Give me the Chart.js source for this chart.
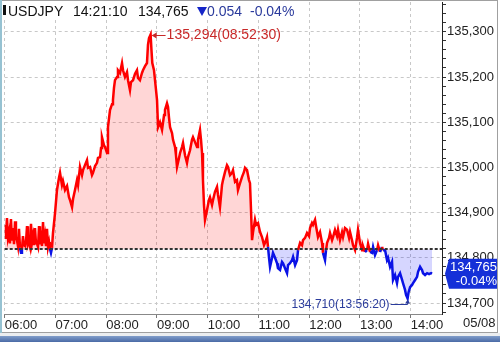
<!DOCTYPE html>
<html><head><meta charset="utf-8">
<script src="https://cdn.jsdelivr.net/npm/chart.js@4/dist/chart.umd.min.js"></script>
<style>html,body{margin:0;padding:0;background:#fff;overflow:hidden}canvas{display:block}</style>
</head><body>
<canvas id="c" width="500" height="342"></canvas>
<script>
const symbol = 'USDJPY';
const quoteTime = '14:21:10';
const lastPriceText = '134,765';
const changeText = '0.054';
const pctText = '-0.04%';
const dateText = '05/08';
const prevClose = 134.819;
const lastPrice = 134.765;
const highLabel = '135,294(08:52:30)';
const lowLabel = '134,710(13:56:20)';

// minutes after 06:00
const xTickMinutes = [0, 60, 120, 180, 240, 300, 360, 420, 480];
const xTickLabels = ['06:00', '07:00', '08:00', '09:00', '10:00', '11:00', '12:00', '13:00', '14:00'];
const yTickValues = [134.7, 134.8, 134.9, 135.0, 135.1, 135.2, 135.3];

const minutes = [
0,1.3,2.7,3.9,5.1,6.2,7.4,8.6,9.8,11.0,12.2,13.3,14.5,15.7,16.9,18.1,19.3,20.4,21.6,22.8,24.0,25.2,26.4,27.5,28.7,29.9,31.1,32.3,33.5,34.6,35.8,37.0,38.2,39.4,40.6,41.7,42.9,44.1,45.3,46.5,47.7,48.8,50.0,51.2,52.4,53.5,54.7,55.9,57.1,
59.5,61.8,64.2,65.4,67.7,68.9,71.3,73.7,76.0,77.2,79.6,80.8,83.1,85.5,86.7,89.0,91.4,92.6,94.9,97.3,98.5,100.9,103.2,104.4,
106.8,109.1,110.3,112.7,113.9,115.0,117.4,118.6,121.0,122.1,124.5,126.9,128.0,129.2,130.4,132.8,133.9,136.3,137.5,138.7,
139.9,142.2,144.6,145.8,148.1,149.3,151.7,154.1,156.4,157.6,159.9,162.3,163.5,165.9,168.2,169.4,170.6,172.5,173.5,174.5,
176.5,177.7,178.9,180.1,181.3,183.6,186.0,188.4,189.5,191.9,193.1,194.3,195.5,197.8,199.0,201.4,202.5,203.7,206.1,207.3,
209.6,210.8,213.2,215.5,216.7,219.1,221.4,222.6,225.0,227.4,228.5,230.9,232.1,233.3,234.4,235.6,236.8,239.2,241.5,242.7,
245.1,246.3,248.6,251.0,252.2,254.5,256.9,258.1,260.5,262.8,264.0,266.4,268.7,269.9,272.3,274.6,275.8,278.2,280.6,282.9,
284.1,286.5,288.8,290.0,291.2,292.4,293.6,295.9,297.1,299.5,301.9,304.2,306.6,307.8,310.1,311.3,312.5,313.7,316.1,317.2,
319.6,322.0,323.1,325.5,327.9,329.1,331.4,333.8,335.0,337.3,339.7,340.9,343.3,345.6,346.8,349.2,351.5,352.7,355.1,357.4,
359.8,361.0,363.3,364.5,366.9,368.1,370.4,372.8,375.2,376.3,378.7,379.9,381.1,383.4,384.6,387.0,388.2,390.5,392.9,394.1,
396.4,398.8,400.0,402.3,404.7,407.1,408.3,410.6,411.8,414.2,416.5,417.7,420.1,422.5,423.6,426.0,428.4,429.6,431.9,434.3,
435.5,437.8,440.2,441.4,443.7,446.1,447.3,449.7,452.0,453.2,455.6,457.9,459.1,461.5,463.8,465.0,467.4,469.8,470.9,473.3,
474.5,476.3333,477.5,479.3,481.6,482.8,485.2,487.5,488.7,491.1,493.4,494.6,497.0,499.4,501.7,504.1,505.3
];
const prices = [
134.873,134.842,134.888,134.845,134.857,134.832,134.886,134.838,134.866,134.830,134.881,134.845,134.839,134.826,134.864,134.822,134.811,134.820,134.848,134.828,134.826,134.836,134.870,134.830,134.837,134.826,134.875,134.834,134.848,134.828,134.866,134.832,134.831,134.824,134.870,134.830,134.844,134.826,134.879,134.832,134.848,134.826,134.864,134.824,134.835,134.820,134.811,134.822,134.855,
134.899,134.950,134.977,134.988,134.961,134.970,134.950,134.959,134.934,134.928,134.912,134.930,134.950,134.972,134.961,135.001,134.983,134.994,135.005,135.016,134.999,135.001,134.983,134.988,
135.003,135.010,135.021,135.023,135.043,135.067,135.049,135.045,135.032,135.089,135.127,135.140,135.149,135.176,135.193,135.200,135.215,135.209,135.220,135.231,
135.215,135.200,135.211,135.193,135.171,135.189,135.193,135.207,135.215,135.198,135.193,135.209,135.215,135.224,135.231,135.271,135.286,135.294,135.260,135.231,
135.215,135.193,135.171,135.149,135.089,135.100,135.083,135.116,135.127,135.142,135.134,135.109,135.089,135.076,135.061,135.045,135.027,135.001,135.021,135.032,
135.045,135.054,135.027,135.010,135.023,135.038,135.061,135.067,135.056,135.045,135.061,135.083,135.061,135.032,134.972,134.917,134.884,134.906,134.928,134.934,
134.917,134.928,134.946,134.957,134.939,134.912,134.961,134.972,134.990,135.005,135.001,134.983,134.988,134.994,134.968,134.972,134.950,134.965,134.979,134.990,
134.999,134.994,134.972,134.965,134.906,134.839,134.857,134.884,134.873,134.877,134.857,134.846,134.828,134.833,134.846,134.824,134.800,134.780,134.800,134.811,
134.800,134.788,134.777,134.773,134.791,134.788,134.777,134.766,134.784,134.788,134.795,134.802,134.784,134.795,134.817,134.833,134.828,134.839,134.844,134.855,
134.848,134.866,134.877,134.873,134.884,134.870,134.846,134.857,134.833,134.811,134.795,134.817,134.833,134.844,134.855,134.839,134.846,134.862,134.848,134.862,
134.839,134.857,134.846,134.866,134.862,134.844,134.857,134.839,134.828,134.817,134.844,134.862,134.833,134.817,134.826,134.813,134.817,134.831,134.813,134.811,
134.824,134.806,134.817,134.828,134.813,134.824,134.817,134.817,134.795,134.800,134.780,134.791,134.751,134.762,134.744,134.758,134.766,134.751,134.744,134.729,
134.718,134.710,134.724,134.735,134.740,134.744,134.751,134.758,134.769,134.780,134.773,134.766,134.762,134.766,134.764,134.766,134.765
];

const FONT = 'Liberation Sans, Arial, sans-serif';
const yAllTicks = [];
for (let k = 0; k <= 34; k++) yAllTicks.push(+(134.68 + k * 0.02).toFixed(2));
const isMajor = v => yTickValues.some(t => Math.abs(t - v) < 1e-6);
const fmt = v => v.toFixed(3).replace('.', ',');

const deco = {
  id: 'deco',
  beforeDraw(chart) {
    const c = chart.ctx; c.save(); c.fillStyle = '#fff'; c.fillRect(0, 0, chart.width, chart.height); c.restore();
  },
  afterDatasetsDraw(chart) {
    const {ctx, chartArea: a, scales: {y}} = chart;
    const py = Math.round(y.getPixelForValue(prevClose));
    ctx.save();
    ctx.strokeStyle = '#333'; ctx.lineWidth = 2; ctx.setLineDash([3, 2]);
    ctx.beginPath(); ctx.moveTo(a.left, py); ctx.lineTo(a.right, py); ctx.stroke();
    ctx.restore();
  },
  afterDraw(chart) {
    const {ctx, scales: {x: xs, y: ys}} = chart;
    ctx.save();
    // high / low annotations
    let hi = 0, lo = 0;
    prices.forEach((p, i) => { if (p > prices[hi]) hi = i; if (p < prices[lo]) lo = i; });
    const hx = xs.getPixelForValue(minutes[hi]), hy = ys.getPixelForValue(prices[hi]);
    ctx.strokeStyle = ctx.fillStyle = '#c82828'; ctx.lineWidth = 1;
    ctx.beginPath(); ctx.moveTo(hx + 2, Math.round(hy) + 0.5); ctx.lineTo(hx + 15, Math.round(hy) + 0.5); ctx.stroke();
    ctx.beginPath(); ctx.moveTo(hx + 1, Math.round(hy) + 0.5); ctx.lineTo(hx + 6, Math.round(hy) - 2.5); ctx.lineTo(hx + 6, Math.round(hy) + 3.5); ctx.closePath(); ctx.fill();
    ctx.font = '14px ' + FONT; ctx.textBaseline = 'middle'; ctx.textAlign = 'left';
    ctx.fillText(highLabel, hx + 16, hy + 1);

    const lx = xs.getPixelForValue(minutes[lo]), ly = ys.getPixelForValue(prices[lo]);
    const ay = Math.round(ly + 6) + 0.5;
    ctx.strokeStyle = ctx.fillStyle = '#2b3c9c';
    ctx.beginPath(); ctx.moveTo(lx - 17, ay); ctx.lineTo(lx, ay); ctx.lineTo(lx, ly + 4); ctx.stroke();
    ctx.beginPath(); ctx.moveTo(lx, ly + 1); ctx.lineTo(lx - 2.5, ly + 5); ctx.lineTo(lx + 2.5, ly + 5); ctx.closePath(); ctx.fill();
    ctx.font = '12px ' + FONT; ctx.textAlign = 'right';
    ctx.fillText(lowLabel, lx - 18, ay + 0.5);

    // last price box
    const by = ys.getPixelForValue(lastPrice);
    ctx.fillStyle = '#1530d8';
    ctx.beginPath(); ctx.moveTo(445, by); ctx.lineTo(449, by - 15); ctx.lineTo(497, by - 15); ctx.lineTo(497, by + 15); ctx.lineTo(449, by + 15); ctx.closePath(); ctx.fill();
    ctx.fillStyle = '#fff'; ctx.font = '13px ' + FONT; ctx.textAlign = 'right';
    ctx.fillText(lastPriceText, 497, by - 6);
    ctx.fillText(pctText, 497, by + 8);

    // header
    ctx.fillStyle = '#fff'; ctx.fillRect(2, 1, 298, 19);
    ctx.fillStyle = '#111'; ctx.fillRect(3, 5, 3, 10);
    ctx.font = '14px ' + FONT; ctx.textAlign = 'left'; ctx.textBaseline = 'middle';
    ctx.fillText(symbol, 8, 12);
    ctx.fillText(quoteTime, 73, 12);
    ctx.fillText(lastPriceText, 138, 12);
    ctx.fillStyle = '#1525c8';
    ctx.beginPath(); ctx.moveTo(197, 7); ctx.lineTo(207, 7); ctx.lineTo(202, 16); ctx.closePath(); ctx.fill();
    ctx.fillStyle = '#2a3a9c';
    ctx.fillText(changeText, 207, 12);
    ctx.fillText(pctText, 250, 12);

    // date label
    ctx.fillStyle = '#222'; ctx.font = '13px ' + FONT; ctx.textBaseline = 'top';
    ctx.fillText(dateText, 463, 317);

    // frame
    ctx.fillStyle = '#eceef0'; ctx.fillRect(0, 333, 500, 3);
    const g = ctx.createLinearGradient(0, 335, 0, 342);
    g.addColorStop(0, '#8aa6d0'); g.addColorStop(1, '#4a6aa6');
    ctx.fillStyle = g; ctx.fillRect(0, 336, 500, 6);
    ctx.strokeStyle = '#a0a0a0'; ctx.lineWidth = 1;
    ctx.beginPath();
    ctx.moveTo(0, 0.5); ctx.lineTo(498, 0.5);
    ctx.moveTo(497.5, 0); ctx.lineTo(497.5, 333);
    ctx.moveTo(0, 332.5); ctx.lineTo(498, 332.5);
    ctx.stroke();
    ctx.fillStyle = '#96c2d2'; ctx.fillRect(0, 0, 2, 333);
    ctx.restore();
  }
};

new Chart(document.getElementById('c'), {
  type: 'line',
  data: {
    datasets: [{
      data: minutes.map((m, i) => ({x: m, y: prices[i]})),
      borderWidth: 2.5,
      pointRadius: 0,
      tension: 0,
      borderColor: '#ff0000',
      segment: {
        borderColor: s => ((s.p0.parsed.y + s.p1.parsed.y) / 2 >= prevClose ? '#ff0000' : '#0a12e6')
      },
      fill: {target: {value: prevClose}, above: 'rgba(255,0,0,0.16)', below: 'rgba(0,0,255,0.16)'}
    }]
  },
  options: {
    responsive: false,
    animation: false,
    devicePixelRatio: 1,
    layout: {padding: {left: 4.7, top: 2, right: 0, bottom: 0}},
    plugins: {legend: {display: false}, tooltip: {enabled: false}},
    scales: {
      x: {
        type: 'linear', min: 0, max: 517, position: 'bottom',
        afterBuildTicks: s => { s.ticks = xTickMinutes.map(v => ({value: v})); },
        afterFit: s => { s.height = 28; s.paddingLeft = 0; s.paddingRight = 0; },
        ticks: {
          autoSkip: false, maxRotation: 0, minRotation: 0, align: 'start', padding: 0,
          color: '#222', font: {family: FONT, size: 13},
          callback: v => xTickLabels[xTickMinutes.indexOf(v)]
        },
        grid: {color: '#c8c8c8', lineWidth: 1, drawTicks: true, tickLength: 4, tickColor: '#777', tickBorderDash: []},
        border: {display: true, color: '#888', width: 1, dash: [3, 3]}
      },
      y: {
        type: 'linear', position: 'right', min: 134.6757, max: 135.366,
        afterBuildTicks: s => { s.ticks = yAllTicks.map(v => ({value: v})); },
        afterFit: s => { s.width = 58; s.paddingTop = 0; s.paddingBottom = 0; },
        ticks: {
          autoSkip: false, padding: 1, color: '#222', font: {family: FONT, size: 13},
          callback: v => isMajor(v) ? fmt(v) : ''
        },
        grid: {
          color: c => (c.tick && isMajor(c.tick.value)) ? '#c8c8c8' : 'rgba(0,0,0,0)',
          lineWidth: 1, tickColor: '#333', tickLength: 4, tickBorderDash: []
        },
        border: {display: true, color: '#222', width: 1, dash: [3, 3]}
      }
    }
  },
  plugins: [deco]
});
</script>
</body></html>
